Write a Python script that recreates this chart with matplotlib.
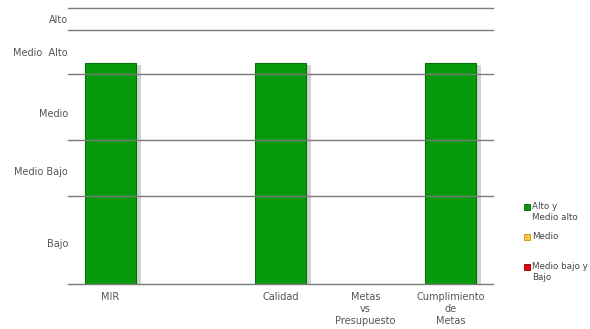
import numpy as np
import matplotlib
matplotlib.use("Agg")
import matplotlib.pyplot as plt
from matplotlib.patches import Rectangle
import matplotlib.patheffects as pe

categories = ["MIR", "", "Calidad", "Metas\nvs\nPresupuesto", "Cumplimiento\nde\nMetas"]
values = [80, np.nan, 80, np.nan, 80]
band_bounds = [0, 32, 52, 76, 92, 100]
band_labels = ["Bajo", "Medio Bajo", "Medio", "Medio  Alto", "Alto"]
band_label_pos = [15, 41, 62, 84, 96]
legend_labels = ["Alto y\nMedio alto", "Medio", "Medio bajo y\nBajo"]
legend_colors = ["#079a0c", "#f7c843", "#e8000b"]
legend_edges = ["#05600a", "#d08a10", "#900000"]

W, H = 590, 329
fig = plt.figure(figsize=(W/100, H/100), dpi=100)
ax = fig.add_axes([68/W, 1-284/H, (493-68)/W, (284-8)/H])

x = np.arange(len(categories))
bars = ax.bar(x, values, width=0.61, color="#079a0c", edgecolor="#05700a",
              linewidth=0.8, zorder=2)
for b in bars:
    b.set_path_effects([pe.SimplePatchShadow(offset=(3, -1), shadow_rgbFace="#999999", alpha=0.45),
                        pe.Normal()])

for yv in band_bounds:
    ax.axhline(yv, color="#7a7a7a", linewidth=1.0, zorder=3, clip_on=False)

ax.set_xlim(-0.5, len(categories) - 0.5)
ax.set_ylim(band_bounds[0], band_bounds[-1])
ax.set_yticks(band_label_pos)
ax.set_yticklabels(band_labels)
ax.set_xticks(x)
ax.set_xticklabels(categories, linespacing=1.2)
ax.tick_params(axis="both", length=0, labelsize=7, labelcolor="#555555")
ax.tick_params(axis="x", pad=6)
ax.tick_params(axis="y", pad=0)
for s in ax.spines.values():
    s.set_visible(False)

# legend (manual, handle aligned with first text line)
leg_y = [207, 237, 267]
for lbl, c, e, yy in zip(legend_labels, legend_colors, legend_edges, leg_y):
    fig.patches.append(Rectangle((524/W, 1-(yy+3)/H), 6/W, 6/H, facecolor=c, edgecolor=e,
                                 linewidth=0.6, transform=fig.transFigure))
    fig.text(532/W, 1-(yy-5)/H, lbl, fontsize=6.3, color="#444444", va="top", ha="left",
             linespacing=1.25)

fig.savefig("out.png", dpi=100)
